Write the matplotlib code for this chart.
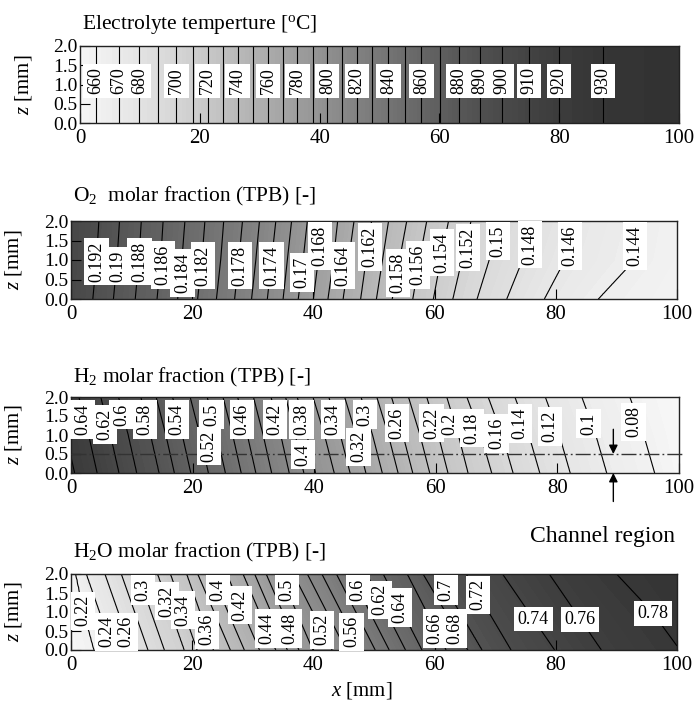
import numpy as np
import matplotlib
matplotlib.use("Agg")
import matplotlib.pyplot as plt
from matplotlib.colors import LinearSegmentedColormap

plt.rcParams['font.family'] = ['Liberation Serif', 'DejaVu Serif']
plt.rcParams['mathtext.fontset'] = 'custom'
plt.rcParams['mathtext.rm'] = 'Liberation Serif'
plt.rcParams['mathtext.it'] = 'Liberation Serif:italic'

# ---------------------------------------------------------------
# Data: every contour level and the x [mm]
# where it crosses z = 0, 1 and 2 mm.  Edge values pin the field
# just outside the 0..100 mm window.
# ---------------------------------------------------------------
Z_ROWS = [0.0, 1.0, 2.0]

temp_levels = [660, 670, 680, 690, 700, 710, 720, 730, 740, 750, 760, 770,
               780, 790, 800, 810, 820, 830, 840, 850, 860, 870, 880, 890,
               900, 910, 920, 930]
temp_x = [2.6, 6.5, 9.9, 13.0, 16.1, 18.8, 21.3, 23.8, 26.3, 28.8, 31.4,
          33.9, 36.3, 38.9, 41.3, 43.7, 46.2, 48.8, 51.5, 54.3, 57.0, 60.1,
          63.2, 66.7, 70.5, 75.0, 80.0, 87.3]
temp_edges = (628, 939)

o2_levels = [0.192, 0.190, 0.188, 0.186, 0.184, 0.182, 0.180, 0.178, 0.176,
             0.174, 0.172, 0.170, 0.168, 0.166, 0.164, 0.162, 0.160, 0.158,
             0.156, 0.154, 0.152, 0.150, 0.148, 0.146, 0.144]
o2_x_z0 = [3.6, 7.0, 10.6, 14.2, 17.6, 20.9, 24.0, 27.0, 29.8, 32.4, 35.0,
           37.5, 40.0, 42.4, 44.9, 47.8, 50.4, 53.0, 56.4, 59.8, 63.0, 67.0,
           71.9, 78.1, 87.0]
o2_x_z1 = [4.2, 7.6, 11.2, 14.8, 18.3, 21.6, 24.7, 27.7, 30.5, 33.1, 35.7,
           38.3, 40.8, 43.3, 45.8, 48.7, 51.4, 54.2, 57.5, 61.0, 64.5, 69.0,
           74.5, 81.5, 93.0]
o2_x_z2 = [4.6, 8.0, 11.6, 15.2, 18.8, 22.1, 25.2, 28.3, 31.1, 33.8, 36.4,
           39.0, 41.5, 44.0, 46.7, 49.6, 52.4, 55.4, 58.7, 62.3, 66.0, 70.8,
           76.5, 83.7, 94.5]
o2_edges = (0.200, 0.1415)

h2_levels = [0.66, 0.64, 0.62, 0.60, 0.58, 0.56, 0.54, 0.52, 0.50, 0.48,
             0.46, 0.44, 0.42, 0.40, 0.38, 0.36, 0.34, 0.32, 0.30, 0.28,
             0.26, 0.24, 0.22, 0.20, 0.18, 0.16, 0.14, 0.12, 0.10, 0.08]
h2_x_z0 = [0.6, 4.3, 7.9, 10.8, 14.5, 17.0, 19.7, 22.6, 25.4, 28.0, 30.4,
           33.0, 35.9, 38.3, 40.2, 43.3, 45.9, 48.5, 51.2, 53.8, 56.2, 59.0,
           62.0, 65.3, 69.2, 72.7, 77.1, 82.1, 88.1, 96.0]
h2_x_z1 = [-0.8, 2.9, 6.5, 9.4, 13.1, 15.6, 18.3, 21.2, 24.0, 26.6, 29.0,
           31.6, 34.5, 36.9, 38.8, 41.7, 44.3, 46.9, 49.6, 52.2, 54.6, 57.4,
           60.4, 63.7, 67.4, 70.9, 75.3, 80.3, 86.3, 94.2]
h2_x_z2 = [-2.4, 1.3, 4.9, 7.8, 11.5, 14.0, 16.7, 19.6, 22.4, 25.0, 27.4,
           30.0, 32.9, 35.3, 37.2, 39.8, 42.4, 45.0, 47.7, 50.3, 52.7, 55.5,
           58.5, 61.8, 65.1, 68.6, 73.0, 78.0, 84.0, 91.9]
h2_edges = (0.71, 0.04)

h2o_levels = [0.22, 0.24, 0.26, 0.28, 0.30, 0.32, 0.34, 0.36, 0.38, 0.40,
              0.42, 0.44, 0.46, 0.48, 0.50, 0.52, 0.54, 0.56, 0.58, 0.60,
              0.62, 0.64, 0.66, 0.68, 0.70, 0.72, 0.74, 0.76, 0.78]
h2o_x_z0 = [3.8, 6.9, 10.0, 12.7, 15.4, 18.7, 20.8, 23.5, 26.3, 28.6, 31.1,
            33.8, 35.7, 37.6, 39.9, 43.1, 45.4, 47.8, 50.2, 52.5, 55.2, 57.9,
            61.9, 65.5, 67.8, 72.6, 79.8, 87.5, 100.5]
h2o_x_z1 = [2.1, 4.7, 7.8, 10.5, 13.2, 16.5, 18.6, 21.3, 23.6, 25.9, 28.4,
            31.1, 33.0, 34.9, 37.2, 39.9, 42.2, 44.6, 47.0, 49.3, 52.0, 54.7,
            58.7, 61.8, 64.1, 68.9, 75.5, 83.2, 95.9]
h2o_x_z2 = [0.8, 2.5, 5.6, 8.3, 11.0, 14.3, 16.4, 19.1, 20.9, 23.2, 25.7,
            28.4, 30.3, 32.2, 34.5, 36.7, 39.0, 41.4, 43.8, 46.1, 48.8, 51.5,
            55.5, 58.1, 60.4, 65.2, 71.2, 78.9, 90.0]
h2o_edges = (0.17, 0.80)

# labelled contours: (value, x, z)
temp_labels = [(660, 2.6, 1.1), (670, 6.5, 1.1), (680, 9.9, 1.1),
               (700, 16.1, 1.1), (720, 21.3, 1.1), (740, 26.3, 1.1),
               (760, 31.4, 1.1), (780, 36.3, 1.1), (800, 41.3, 1.1),
               (820, 46.2, 1.1), (840, 51.5, 1.1), (860, 57.0, 1.1),
               (880, 63.2, 1.1), (890, 66.7, 1.1), (900, 70.5, 1.1),
               (910, 75.0, 1.1), (920, 80.0, 1.1), (930, 87.3, 1.1)]
o2_labels = [(0.192, 4.2, 0.96), (0.19, 7.8, 0.85), (0.188, 11.3, 0.96),
             (0.186, 15.2, 0.87), (0.184, 18.4, 0.67), (0.182, 21.8, 0.86),
             (0.178, 27.9, 0.86), (0.174, 33.1, 0.86), (0.17, 38.1, 0.68),
             (0.168, 41.1, 1.36), (0.164, 44.9, 0.86), (0.162, 49.3, 1.34),
             (0.158, 54.0, 0.67), (0.156, 57.3, 0.87), (0.154, 61.2, 1.19),
             (0.152, 65.5, 1.32), (0.15, 70.5, 1.49), (0.148, 75.7, 1.40),
             (0.146, 82.3, 1.36), (0.144, 93.1, 1.36)]
h2_labels = [(0.64, 1.9, 1.41), (0.62, 5.6, 1.28), (0.6, 8.3, 1.54),
             (0.58, 12.2, 1.41), (0.54, 17.4, 1.41), (0.52, 22.7, 0.71),
             (0.5, 23.1, 1.54), (0.46, 28.1, 1.41), (0.42, 33.6, 1.41),
             (0.38, 37.9, 1.41), (0.4, 38.2, 0.49), (0.34, 43.1, 1.41),
             (0.32, 47.3, 0.69), (0.3, 48.4, 1.54), (0.26, 53.6, 1.31),
             (0.22, 59.3, 1.31), (0.2, 62.3, 1.30), (0.18, 65.9, 1.18),
             (0.16, 70.0, 1.04), (0.14, 73.8, 1.31), (0.12, 78.8, 1.22),
             (0.1, 85.1, 1.30), (0.08, 92.5, 1.35)]
h2o_labels = [(0.22, 2.0, 1.03), (0.24, 5.9, 0.48), (0.26, 9.0, 0.48),
              (0.3, 11.9, 1.58), (0.32, 15.8, 1.29), (0.34, 18.5, 1.05),
              (0.36, 22.4, 0.53), (0.4, 24.3, 1.58), (0.42, 27.9, 1.18),
              (0.44, 32.3, 0.57), (0.48, 36.1, 0.57), (0.5, 35.6, 1.58),
              (0.52, 41.4, 0.53), (0.56, 46.3, 0.48), (0.6, 47.4, 1.58),
              (0.62, 51.0, 1.32), (0.64, 54.3, 1.12), (0.66, 60.1, 0.57),
              (0.68, 63.4, 0.57), (0.7, 61.9, 1.58), (0.72, 67.2, 1.45)]
h2o_flat_labels = [(0.74, 76.3, 0.81), (0.76, 84.0, 0.80), (0.78, 96.1, 0.96)]

titles = ["Electrolyte temperture [$^{\\rm o}$C]",
          "O$_2$  molar fraction (TPB) [-]",
          "H$_2$ molar fraction (TPB) [-]",
          "H$_2$O molar fraction (TPB) [-]"]

CHANNEL_Z = 0.5
CHANNEL_X = 89.2

# ---------------------------------------------------------------
xg = np.linspace(0, 100, 401)
zg = np.linspace(0, 2, 81)


def build_field(levels, rows, edges):
    """Rebuild a 2-D field from where each contour crosses the z rows."""
    rows = np.array(rows)  # shape (3, n_levels)
    field = np.empty((len(zg), len(xg)))
    for i, z in enumerate(zg):
        pos = [np.interp(z, Z_ROWS, rows[:, k]) for k in range(rows.shape[1])]
        xp = [-10.0] + pos + [110.0]
        fp = [edges[0]] + list(levels) + [edges[1]]
        field[i] = np.interp(xg, xp, fp)
    return field


fields = [
    (build_field(temp_levels, [temp_x, temp_x, temp_x], temp_edges),
     temp_levels, (650, 940)),
    (build_field(o2_levels, [o2_x_z0, o2_x_z1, o2_x_z2], o2_edges),
     o2_levels, (0.141, 0.202)),
    (build_field(h2_levels, [h2_x_z0, h2_x_z1, h2_x_z2], h2_edges),
     h2_levels, (0.06, 0.70)),
    (build_field(h2o_levels, [h2o_x_z0, h2o_x_z1, h2o_x_z2], h2o_edges),
     h2o_levels, (0.20, 0.81)),
]
label_sets = [temp_labels, o2_labels, h2_labels, h2o_labels]

cmap = LinearSegmentedColormap.from_list("grey", ["#f8f8f8", "#2e2e2e"])

W, H = 696, 706
# axes boxes in pixels: left, top, right, bottom
boxes = [(80, 46, 679, 123), (71, 221, 677, 299),
         (71, 397, 679, 473), (71, 574, 677, 650)]
title_pads = [12.2, 13.7, 10.8, 12.2]

fig = plt.figure(figsize=(W / 100, H / 100), dpi=100)
X, Z = np.meshgrid(xg, zg)
label_box = dict(boxstyle="square,pad=0.2", fc="white", ec="none")
LABEL_SIZE = 13

axes = []
for i, ((F, lv, (vmin, vmax)), box) in enumerate(zip(fields, boxes)):
    l, t, r, b = box
    ax = fig.add_axes([l / W, 1 - b / H, (r - l) / W, (b - t) / H])
    axes.append(ax)
    ax.contourf(X, Z, F, levels=np.linspace(vmin, vmax, 120), cmap=cmap,
                extend="both")
    ax.contour(X, Z, F, levels=sorted(lv), colors="black", linewidths=0.8)
    for val, lx, lz in label_sets[i]:
        ax.text(lx, lz, f"{val:g}", rotation=90, ha="center", va="center",
                fontsize=LABEL_SIZE, bbox=label_box, zorder=5)
    ax.set_xlim(0, 100)
    ax.set_ylim(0, 2)
    ax.set_xticks([0, 20, 40, 60, 80, 100])
    ax.set_yticks([0.0, 0.5, 1.0, 1.5, 2.0])
    ax.set_yticklabels(["0.0", "0.5", "1.0", "1.5", "2.0"])
    ax.tick_params(direction="in", length=7, width=0.8, top=False,
                   right=False, pad=4)
    ax.tick_params(axis="x", labelsize=15)
    ax.tick_params(axis="y", labelsize=14, pad=2)
    for sp in ax.spines.values():
        sp.set_linewidth(1.0)
        sp.set_color("#222222")
    ax.set_ylabel("$z$ [mm]", fontsize=15)
    ax.yaxis.set_label_coords(-0.077, 0.5)
    ax.set_title(titles[i], loc="left", fontsize=15.5, pad=title_pads[i],
                 x=0.004)

ax4 = axes[3]
for val, lx, lz in h2o_flat_labels:
    ax4.text(lx, lz, f"{val:g}", rotation=0, ha="center", va="center",
             fontsize=LABEL_SIZE, bbox=label_box, zorder=5)
ax4.set_xlabel("$x$ [mm]", fontsize=15)
ax4.xaxis.set_label_coords(0.48, -0.40)

# channel region marker on the H2 panel
ax3 = axes[2]
ax3.plot([0, 100.8], [CHANNEL_Z, CHANNEL_Z], color="#333333", lw=1.0,
         dashes=(10.8, 2.2, 1.3, 2.2), clip_on=False, zorder=4)
arrow = dict(arrowstyle="-|>", color="black", lw=1.0, shrinkA=0, shrinkB=0,
             mutation_scale=13)
ax3.annotate("", xy=(CHANNEL_X, CHANNEL_Z), xytext=(CHANNEL_X, 1.15),
             arrowprops=arrow, zorder=6)
ax3.annotate("", xy=(CHANNEL_X, 0.0), xytext=(CHANNEL_X, -0.75),
             arrowprops=arrow, annotation_clip=False, zorder=6)
fig.text(675 / W, 1 - 541.7 / H, "Channel region", ha="right",
         va="baseline", fontsize=17)

fig.savefig("out.png", dpi=100)
